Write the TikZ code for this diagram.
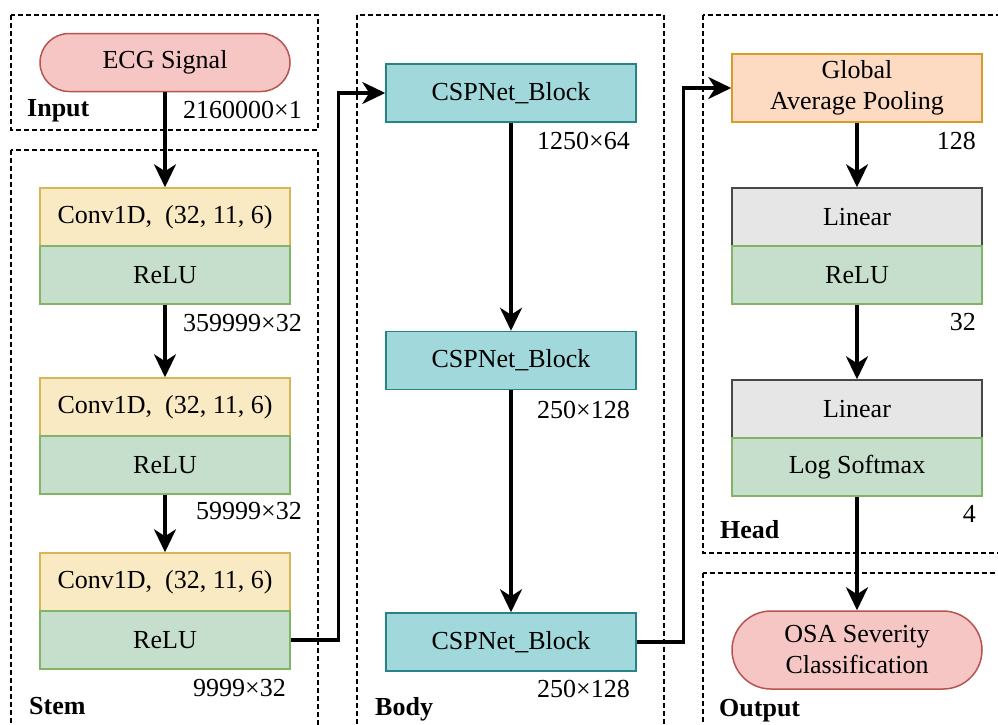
\documentclass[tikz,border=0pt]{standalone}
\usepackage{fontspec}
\newfontfamily\libserif{Liberation Serif}
\usetikzlibrary{arrows.meta}
\definecolor{pinkF}{RGB}{246,198,197}
\definecolor{pinkD}{RGB}{184,84,80}
\definecolor{yelF}{RGB}{250,234,196}
\definecolor{yelD}{RGB}{214,182,86}
\definecolor{grnF}{RGB}{198,223,204}
\definecolor{grnD}{RGB}{130,179,102}
\definecolor{tealF}{RGB}{160,216,219}
\definecolor{tealD}{RGB}{38,132,134}
\definecolor{oraF}{RGB}{253,219,195}
\definecolor{oraD}{RGB}{215,155,40}
\definecolor{gryF}{RGB}{230,230,230}
\definecolor{gryD}{RGB}{70,72,76}
\tikzset{
  txt/.style={font=\fontsize{26}{31}\selectfont\libserif},
  blk/.style={txt, draw, line width=1.5pt, minimum width=250pt, inner sep=0pt, align=center},
  pill/.style={blk, fill=pinkF, draw=pinkD, rounded corners=#1},
  convbox/.style={blk, fill=yelF, draw=yelD, minimum height=58pt},
  relubox/.style={blk, fill=grnF, draw=grnD, minimum height=58pt},
  linbox/.style={blk, fill=gryF, draw=gryD, minimum height=58pt},
  cspbox/.style={blk, fill=tealF, draw=tealD, minimum height=58pt},
  gapbox/.style={blk, fill=oraF, draw=oraD, minimum height=68pt},
  grp/.style={draw=black, line width=1.3pt, dash pattern=on 5pt off 3pt},
  grplabel/.style={font=\fontsize{26}{31}\selectfont\libserif\bfseries, anchor=base west, inner sep=0pt},
  dimlabel/.style={txt, anchor=base east, inner sep=0pt},
  arr/.style={line width=3.3pt, -{Stealth[length=23pt,width=22pt,inset=7pt]}}
}
\begin{document}
\begin{tikzpicture}[x=1pt,y=-1pt]
\useasboundingbox (0,0) rectangle (998,724);
\begin{scope}
\clip (0,0) rectangle (998,724);
% groups
\draw[grp] (11,15) rectangle (318,130);
\draw[grp] (11,150) rectangle (318,740);
\draw[grp] (357,15) rectangle (664,740);
\draw[grp] (703,15) rectangle (1010,553);
\draw[grp] (703,573) rectangle (1010,740);
\end{scope}
\node[grplabel] (lin) at (27,116) {Input};
\node[grplabel] (lst) at (29,714) {Stem};
\node[grplabel] (lbo) at (375,715) {Body};
\node[grplabel] (lhe) at (720,538) {Head};
\node[grplabel] (lou) at (719,716) {Output};
% input
\node[pill=29pt, minimum height=58pt] (ecg) at (165,62.5) {ECG Signal};
% stem
\node[convbox] (c1) at (165,217) {Conv1D,\ \ (32, 11, 6)};
\node[relubox] (r1) at (165,275) {ReLU};
\node[convbox] (c2) at (165,407) {Conv1D,\ \ (32, 11, 6)};
\node[relubox] (r2) at (165,465) {ReLU};
\node[convbox] (c3) at (165,582) {Conv1D,\ \ (32, 11, 6)};
\node[relubox] (r3) at (165,640) {ReLU};
% body
\node[cspbox] (b1) at (511,93) {CSPNet\_Block};
\node[cspbox] (b2) at (511,360.5) {CSPNet\_Block};
\node[cspbox] (b3) at (511,642) {CSPNet\_Block};
% head
\node[gapbox] (gap) at (857,88) {Global\\Average Pooling};
\node[linbox] (l1) at (857,217) {Linear};
\node[relubox] (hr) at (857,275) {ReLU};
\node[linbox] (l2) at (857,409) {Linear};
\node[relubox] (ls) at (857,467) {Log Softmax};
% output
\node[pill=39pt, minimum height=78pt] (osa) at (857,650) {OSA Severity\\Classification};
% dimension labels
\node[dimlabel] (d0) at (302,118) {2160000×1};
\node[dimlabel] (d1) at (302,331) {359999×32};
\node[dimlabel] (d2) at (302,519) {59999×32};
\node[dimlabel] (d3) at (286,696) {9999×32};
\node[dimlabel] (d4) at (630,149) {1250×64};
\node[dimlabel] (d5) at (630,418) {250×128};
\node[dimlabel] (d6) at (630,697) {250×128};
\node[dimlabel] (d7) at (976,149) {128};
\node[dimlabel] (d8) at (976,330) {32};
\node[dimlabel] (d9) at (976,522) {4};
% connectors
\draw[arr] (ecg.south) -- (c1.north);
\draw[arr] (r1.south) -- (c2.north);
\draw[arr] (r2.south) -- (c3.north);
\draw[arr] (r3.east) -- ([xshift=48pt]r3.east) |- (b1.west);
\draw[arr] (b1.south) -- (b2.north);
\draw[arr] (b2.south) -- (b3.north);
\draw[arr] (b3.east) -- ([xshift=47pt]b3.east) |- (gap.west);
\draw[arr] (gap.south) -- (l1.north);
\draw[arr] (hr.south) -- (l2.north);
\draw[arr] (ls.south) -- (osa.north);
\end{tikzpicture}
\end{document}
